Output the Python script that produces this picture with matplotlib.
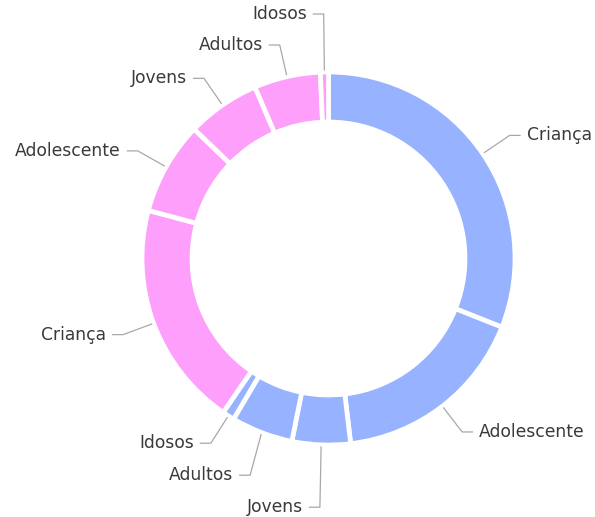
import numpy as np
import matplotlib
matplotlib.use("Agg")
import matplotlib.pyplot as plt

# ---- data ----
categories = ["Criança", "Adolescente", "Jovens", "Adultos", "Idosos",
              "Criança", "Adolescente", "Jovens", "Adultos", "Idosos"]
values = [31.0, 17.1, 5.05, 5.35, 1.05, 19.6, 8.05, 6.35, 5.75, 0.7]
groups = ["M", "M", "M", "M", "M", "F", "F", "F", "F", "F"]
group_colors = {"M": "#97B3FF", "F": "#FD9FFB"}

W, H = 595, 517
fig = plt.figure(figsize=(W / 100, H / 100), dpi=100)
ax = fig.add_axes([0, 0, 1, 1])

cx, cy = 328.5, H - 258.5
R = 186.5
ring = 50.0

wedges, _ = ax.pie(values, colors=[group_colors[g] for g in groups],
                   startangle=90, counterclock=False, center=(cx, cy), radius=R,
                   wedgeprops=dict(width=ring, edgecolor="white", linewidth=3.4))

ax.set_xlim(0, W)
ax.set_ylim(0, H)
ax.set_aspect("equal")
ax.axis("off")

r_start, r_elbow = 188.0, 219.0
hseg, tgap, spacing = 11.0, 6.0, 31.0

labels = []
for w, name in zip(wedges, categories):
    mid = np.deg2rad((w.theta1 + w.theta2) / 2.0)
    sx, sy = cx + r_start * np.cos(mid), cy + r_start * np.sin(mid)
    ex, ey = cx + r_elbow * np.cos(mid), cy + r_elbow * np.sin(mid)
    side = 1 if np.cos(mid) > 1e-9 else -1
    labels.append(dict(name=name, sx=sx, sy=sy, ex=ex, ey=ey, side=side))

# simple overlap resolution per side / half
for side in (1, -1):
    upper = sorted([l for l in labels if l["side"] == side and l["ey"] >= cy], key=lambda l: l["ey"])
    for i in range(1, len(upper)):
        upper[i]["ey"] = max(upper[i]["ey"], upper[i - 1]["ey"] + spacing)
    lower = sorted([l for l in labels if l["side"] == side and l["ey"] < cy], key=lambda l: -l["ey"])
    for i in range(1, len(lower)):
        lower[i]["ey"] = min(lower[i]["ey"], lower[i - 1]["ey"] - spacing - 1)

for l in labels:
    s = l["side"]
    hx = l["ex"] + s * hseg
    ax.plot([l["sx"], l["ex"], hx], [l["sy"], l["ey"], l["ey"]],
            color="#a8a8a8", lw=0.9, solid_capstyle="butt")
    ax.text(hx + s * tgap, l["ey"], l["name"], ha="left" if s > 0 else "right",
            va="center", fontsize=12.3, color="#3a3a3a", family="DejaVu Sans")

fig.savefig("out.png", dpi=100)
